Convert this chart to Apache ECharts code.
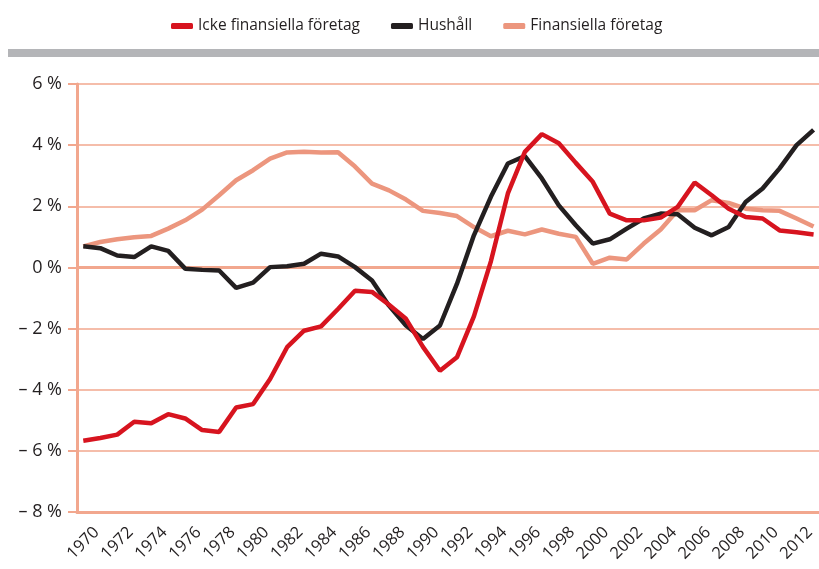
<!DOCTYPE html>
<html>
<head>
<meta charset="utf-8">
<title>Sparande per sektor</title>
<script src="https://cdn.jsdelivr.net/npm/echarts@6/dist/echarts.min.js"></script>
<style>
  html, body { margin: 0; padding: 0; background: #fff; }
  #chart { width: 819px; height: 569px; }
</style>
</head>
<body>
<div id="chart"></div>
<script>
// år 1970 - 2013
var years = [];
for (var y = 1970; y <= 2013; y++) years.push(y);

// etiketter på x-axeln (vartannat år)
var yearLabels = [1970, 1972, 1974, 1976, 1978, 1980, 1982, 1984, 1986, 1988, 1990,
  1992, 1994, 1996, 1998, 2000, 2002, 2004, 2006, 2008, 2010, 2012];

// y-axelns steg, procent
var yTicks = [-8, -6, -4, -2, 0, 2, 4, 6];

var icke = [-5.67, -5.58, -5.47, -5.05, -5.1, -4.8, -4.94, -5.32, -5.38, -4.58, -4.47,
  -3.65, -2.61, -2.07, -1.93, -1.36, -0.76, -0.8, -1.22, -1.68, -2.6, -3.38, -2.94,
  -1.6, 0.2, 2.42, 3.78, 4.36, 4.06, 3.42, 2.8, 1.76, 1.54, 1.54, 1.63, 1.98, 2.78,
  2.36, 1.92, 1.65, 1.6, 1.21, 1.15, 1.08];

var hushall = [0.69, 0.63, 0.39, 0.34, 0.69, 0.54, -0.04, -0.08, -0.1, -0.67, -0.5,
  0.01, 0.04, 0.12, 0.45, 0.36, 0.01, -0.43, -1.25, -1.9, -2.34, -1.9, -0.54, 1.05,
  2.31, 3.4, 3.64, 2.91, 2.03, 1.38, 0.78, 0.92, 1.27, 1.6, 1.76, 1.74, 1.3, 1.05,
  1.32, 2.14, 2.58, 3.24, 4.0, 4.5];

var finans = [0.69, 0.83, 0.92, 0.99, 1.03, 1.27, 1.54, 1.89, 2.36, 2.85, 3.18, 3.56,
  3.76, 3.78, 3.76, 3.77, 3.3, 2.74, 2.52, 2.22, 1.85, 1.78, 1.68, 1.32, 1.02, 1.2,
  1.08, 1.24, 1.1, 1.0, 0.12, 0.32, 0.26, 0.78, 1.24, 1.87, 1.87, 2.2, 2.11, 1.92,
  1.87, 1.85, 1.6, 1.34];

var names = ["Icke finansiella företag", "Hushåll", "Finansiella företag"];
var colors = ["#d7141f", "#231f20", "#ec967e"];
var gridColor = "#f2a78e";

function pairs(values) {
  var out = [];
  for (var i = 0; i < values.length; i++) out.push([years[i], values[i]]);
  return out;
}

var chart = echarts.init(document.getElementById("chart"));
var fontFamily = "'Open Sans', sans-serif";

var seriesData = [icke, hushall, finans];
var series = [];
for (var i = 0; i < seriesData.length; i++) {
  series.push({
    name: names[i],
    type: "line",
    data: pairs(seriesData[i]),
    showSymbol: false,
    symbol: "none",
    z: 10 - i,
    lineStyle: { color: colors[i], width: 4.5 },
    itemStyle: { color: colors[i] },
  });
}
// tjockare nollinje
series[0].markLine = {
  silent: true,
  symbol: "none",
  animation: false,
  label: { show: false },
  lineStyle: { color: gridColor, width: 3, type: "solid" },
  data: [{ yAxis: 0 }],
};

var option = {
  animation: false,
  textStyle: { fontFamily: fontFamily },
  legend: {
    left: 166,
    top: 13,
    icon: "roundRect",
    itemWidth: 22,
    itemHeight: 6,
    itemGap: 31,
    data: names,
    textStyle: { fontSize: 15.5, color: "#231f20", fontFamily: fontFamily },
  },
  graphic: [
    {
      type: "rect",
      shape: { x: 8, y: 49, width: 811, height: 8 },
      style: { fill: "#b4b5b8" },
      silent: true,
    },
  ],
  grid: {
    left: 77,
    right: 0,
    top: 84,
    bottom: 57,
  },
  xAxis: {
    type: "value",
    min: 1969.63,
    max: 2013.32,
    axisLine: { onZero: false, lineStyle: { color: gridColor, width: 3 } },
    axisTick: { show: false },
    splitLine: { show: false },
    axisLabel: {
      customValues: yearLabels,
      rotate: 45,
      align: "center",
      verticalAlign: "middle",
      margin: 31,
      fontSize: 16.5,
      color: "#231f20",
      fontFamily: fontFamily,
      formatter: function (v) {
        return String(v);
      },
    },
  },
  yAxis: {
    type: "value",
    min: yTicks[0],
    max: yTicks[yTicks.length - 1],
    interval: 2,
    axisLine: { show: true, lineStyle: { color: gridColor, width: 3 } },
    axisTick: { show: true, length: 9, lineStyle: { color: gridColor, width: 2 } },
    splitLine: { show: true, lineStyle: { color: gridColor, width: 1.5 } },
    axisLabel: {
      margin: 15,
      fontSize: 18,
      color: "#231f20",
      fontFamily: fontFamily,
      formatter: function (v) {
        return v < 0 ? "– " + Math.abs(v) + " %" : v + " %";
      },
    },
  },
  series: series,
};

chart.setOption(option);
</script>
</body>
</html>
